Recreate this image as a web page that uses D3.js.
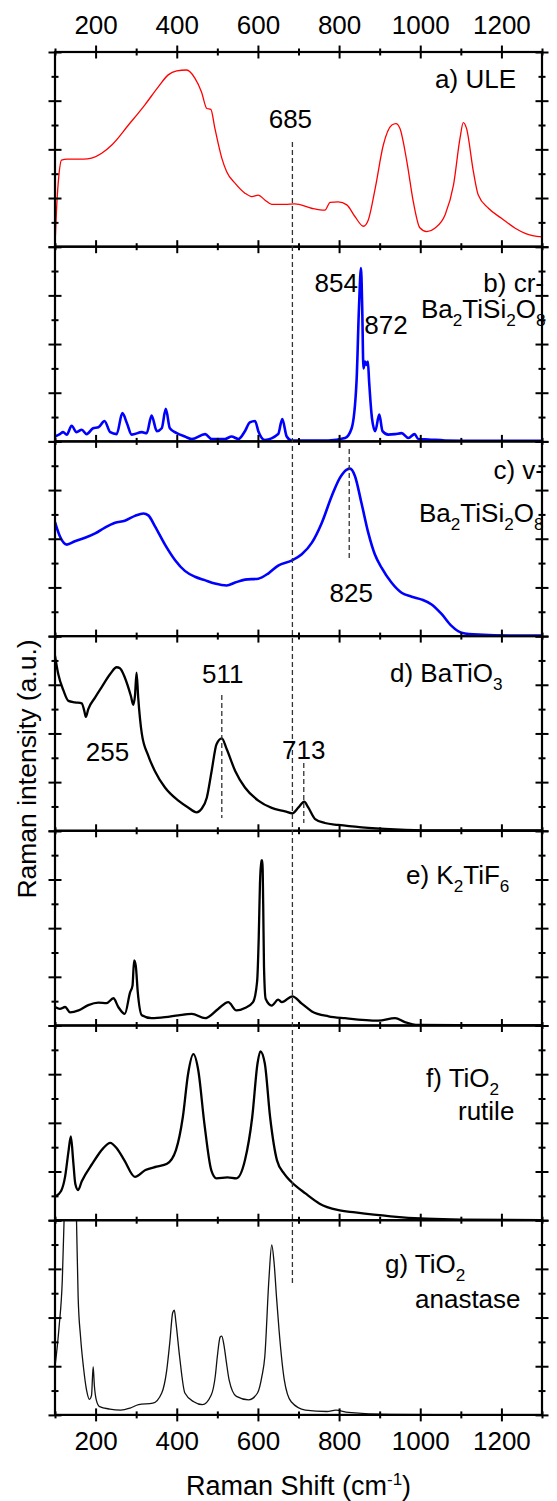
<!DOCTYPE html>
<html>
<head>
<meta charset="utf-8">
<script src="https://cdn.jsdelivr.net/npm/d3@7"></script>
<style>
  body { margin: 0; background: #fff; }
  text { font-family: "Liberation Sans", Arial, sans-serif; fill: #000; }
</style>
</head>
<body>
<div id="chart"></div>
<script>
// Raman shift (cm-1), intensity in panel units (0 = panel bottom, 4 = panel top)
const ulePts = [[100,0.03],[104,0.8],[110,1.5],[116,1.78],[130,1.8],[150,1.8],[170,1.8],[190,1.82],[215,1.92],[240,2.09],[281,2.5],[322,2.92],[355,3.29],[379,3.53],[400,3.61],[424,3.63],[445,3.46],[461,3.18],[474,2.84],[484,2.82],[494,2.43],[511,1.82],[523,1.54],[544,1.3],[568,1.1],[585,1.03],[601,1.06],[617,0.96],[634,0.87],[667,0.87],[691,0.88],[732,0.79],[765,0.75],[778,0.91],[798,0.92],[819,0.86],[839,0.62],[860,0.42],[872,0.55],[889,1.2],[909,2.09],[930,2.5],[940,2.53],[950,2.43],[967,1.75],[983,0.92],[999,0.39],[1016,0.31],[1036,0.38],[1061,0.65],[1082,1.27],[1098,2.23],[1106,2.55],[1114,2.43],[1131,1.54],[1143,1.06],[1168,0.79],[1201,0.58],[1234,0.38],[1260,0.27],[1300,0.2]];

const crBtsPts = [[100,0.1],[112,0.15],[120,0.19],[129,0.14],[141,0.32],[153,0.19],[166,0.24],[178,0.15],[194,0.27],[207,0.29],[222,0.42],[236,0.19],[252,0.15],[266,0.58],[277,0.38],[289,0.14],[314,0.19],[326,0.17],[338,0.53],[351,0.21],[363,0.27],[373,0.67],[383,0.27],[400,0.17],[420,0.1],[437,0.05],[470,0.15],[486,0.05],[519,0.05],[535,0.1],[552,0.05],[568,0.21],[580,0.39],[593,0.42],[601,0.21],[617,0.03],[650,0.15],[660,0.46],[671,0.1],[683,0.02],[773,0.02],[815,0.07],[831,0.27],[843,1.23],[849,2.74],[854,3.56],[857,2.74],[860,1.5],[864,1.64],[868,1.57],[871,1.64],[874,1.23],[881,0.48],[889,0.21],[899,0.55],[907,0.21],[921,0.14],[938,0.15],[954,0.17],[971,0.07],[986,0.15],[995,0.05],[1020,0.04],[1061,0.02],[1143,0.01],[1300,0.01]];

const vBtsPts = [[100,2.34],[112,2.05],[129,1.88],[149,1.95],[174,2.02],[199,2.11],[223,2.23],[248,2.33],[272,2.37],[297,2.47],[318,2.52],[330,2.48],[346,2.26],[371,1.88],[396,1.56],[420,1.34],[445,1.22],[469,1.15],[494,1.08],[523,1.04],[544,1.1],[568,1.16],[601,1.18],[626,1.29],[650,1.45],[683,1.55],[708,1.68],[733,1.92],[757,2.32],[782,2.88],[802,3.25],[819,3.42],[827,3.44],[839,3.29],[855,2.74],[872,2.12],[888,1.68],[905,1.4],[929,1.1],[954,0.89],[979,0.81],[1004,0.75],[1028,0.65],[1053,0.45],[1077,0.21],[1102,0.07],[1143,0.03],[1234,0.01],[1300,0.01]];

const batio3Pts = [[100,3.6],[108,3.22],[121,2.88],[133,2.67],[149,2.64],[166,2.62],[172,2.47],[176,2.34],[182,2.5],[199,2.74],[215,2.95],[236,3.22],[252,3.36],[260,3.34],[272,3.15],[287,2.77],[293,2.59],[297,2.77],[301,3.25],[305,2.74],[314,1.99],[330,1.54],[346,1.23],[371,0.89],[404,0.62],[428,0.48],[449,0.38],[461,0.45],[474,0.68],[486,1.23],[498,1.78],[511,1.9],[523,1.68],[544,1.23],[568,0.89],[601,0.62],[634,0.47],[667,0.4],[685,0.36],[700,0.48],[714,0.6],[724,0.48],[741,0.24],[765,0.16],[798,0.12],[856,0.07],[938,0.03],[1020,0.01],[1300,0.01]];

const k2tif6Pts = [[100,0.38],[112,0.34],[125,0.38],[137,0.27],[158,0.31],[182,0.42],[207,0.47],[227,0.46],[244,0.56],[256,0.38],[272,0.24],[285,0.68],[291,0.82],[295,1.34],[299,1.23],[304,0.68],[314,0.21],[338,0.15],[371,0.17],[404,0.21],[437,0.24],[470,0.15],[502,0.34],[527,0.48],[547,0.31],[568,0.36],[588,0.48],[598,0.9],[602,1.8],[605,2.9],[608,3.39],[611,3.39],[613,2.5],[615,1.2],[619,0.55],[634,0.41],[650,0.53],[659,0.48],[685,0.6],[708,0.45],[733,0.29],[774,0.19],[815,0.15],[897,0.1],[938,0.15],[962,0.07],[995,0.01],[1300,0]];

const rutilePts = [[100,0.48],[115,0.6],[125,0.9],[133,1.4],[139,1.72],[145,1.2],[150,0.75],[157,0.62],[166,0.8],[192,1.16],[218,1.47],[236,1.59],[253,1.47],[271,1.23],[297,0.89],[323,1.03],[350,1.1],[376,1.16],[398,1.44],[415,2.12],[428,3.01],[441,3.41],[453,3.08],[468,1.99],[485,1.03],[498,0.86],[525,0.88],[547,0.86],[568,1.23],[586,2.12],[599,3.22],[606,3.47],[617,3.22],[630,2.12],[647,1.23],[665,0.95],[682,0.79],[717,0.55],[752,0.34],[796,0.21],[840,0.16],[927,0.08],[1015,0.03],[1102,0.01],[1300,0]];

const anatasePts = [[100,0.99],[110,1.8],[118,2.77],[124,4.5],[131,6.5],[138,7],[145,6.5],[150,5],[153,4],[157,2.43],[163,1.6],[170,0.99],[178,0.5],[185,0.32],[190,0.4],[194,0.99],[197,0.6],[202,0.3],[210,0.17],[235,0.12],[262,0.1],[285,0.14],[306,0.21],[341,0.24],[363,0.45],[375,0.9],[383,1.5],[390,2.1],[394,2.15],[398,1.9],[407,1.2],[420,0.45],[442,0.27],[463,0.21],[485,0.41],[495,0.8],[500,1.2],[507,1.6],[511,1.62],[516,1.45],[522,1.1],[529,0.72],[547,0.38],[577,0.31],[599,0.45],[610,0.8],[617,1.2],[627,2.77],[634,3.49],[640,3.11],[646,2.4],[652,1.75],[665,0.72],[682,0.27],[717,0.1],[770,0.07],[792,0.1],[823,0.05],[927,0.01],[1300,0]];

const xMajorTicks = [200, 400, 600, 800, 1000, 1200];
const xMinorTicks = [100, 300, 500, 700, 900, 1100, 1300];
const yMajorTicks = [0, 1, 2, 3, 4];
const yMinorTicks = [0.5, 1.5, 2.5, 3.5];

// [text, subscript?]
const panels = [
  { data: ulePts,    color: "#ff0000", width: 1.3, label: [[ [["a) ULE",0]], 516, 88, "end"]] },
  { data: crBtsPts,  color: "#0000ff", width: 2.6, label: [[ [["b) cr-",0]], 544, 292, "end"], [[["Ba",0],["2",1],["TiSi",0],["2",1],["O",0],["8",1]], 421, 318, "start"]] },
  { data: vBtsPts,   color: "#0000ff", width: 2.6, label: [[ [["c) v-",0]], 544, 479, "end"], [[["Ba",0],["2",1],["TiSi",0],["2",1],["O",0],["8",1]], 419, 522, "start"]] },
  { data: batio3Pts, color: "#000000", width: 2.3, label: [[ [["d) BaTiO",0],["3",1]], 390, 682, "start"]] },
  { data: k2tif6Pts, color: "#000000", width: 2.3, label: [[ [["e) K",0],["2",1],["TiF",0],["6",1]], 406, 884, "start"]] },
  { data: rutilePts, color: "#000000", width: 2.3, label: [[ [["f) TiO",0],["2",1]], 426, 1087, "start"], [[["rutile",0]], 458, 1120, "start"]] },
  { data: anatasePts,color: "#111111", width: 1.3, label: [[ [["g) TiO",0],["2",1]], 385, 1273, "start"], [[["anastase",0]], 415, 1308, "start"]] }
];

// peak annotations: [text, shift, baseline y, anchor, x offset]
const peakLabels = [["685", 685, 128, "middle", -2], ["854", 854, 292, "end", -3], ["872", 872, 334, "start", -4],
                    ["825", 825, 602, "middle", 2], ["511", 511, 683, "middle", 1], ["255", 255, 761, "middle", 0],
                    ["713", 713, 759, "middle", 0]];
// dashed guide lines: [shift, y1, y2]
const guides = [[685, 142, 1285], [825, 449, 561], [511, 695, 818], [713, 763, 823]];

const W = 557, H = 1501;
const top0 = 52, panelH = 194.7;
const fs = 26;

const svg = d3.select("#chart").append("svg").attr("width", W).attr("height", H);
const x = d3.scaleLinear().domain([100, 1300]).range([55, 542]);

function crossTicks(g, axis, orient, len) {
  g.call(axis);
  g.select(".domain").remove();
  const attr = (orient === "left" || orient === "right") ? "x1" : "y1";
  const sign = (orient === "left" || orient === "top") ? 1 : -1;
  g.selectAll(".tick line").attr(attr, sign * len).attr("stroke", "#000").attr("stroke-width", 2);
}

function richText(parent, parts, tx, ty, anchor, size) {
  const t = parent.append("text").attr("x", tx).attr("y", ty)
    .attr("text-anchor", anchor).attr("font-size", size);
  let shifted = false;
  parts.forEach(([s, sub]) => {
    const ts = t.append("tspan").text(s);
    if (sub && !shifted) { ts.attr("dy", 8).attr("font-size", size * 0.66); shifted = true; }
    else if (sub) { ts.attr("font-size", size * 0.66); }
    else if (!sub && shifted) { ts.attr("dy", -8); shifted = false; }
  });
  return t;
}

panels.forEach((p, i) => {
  const top = top0 + i * panelH, bottom = top + panelH;
  const y = d3.scaleLinear().domain([0, 4]).range([bottom, top]);

  svg.append("clipPath").attr("id", "clip" + i)
    .append("rect").attr("x", x(100)).attr("y", top).attr("width", x(1300) - x(100)).attr("height", panelH);

  const line = d3.line().x(d => x(d[0])).y(d => y(d[1])).curve(d3.curveMonotoneX);
  svg.append("path").datum(p.data)
    .attr("clip-path", `url(#clip${i})`)
    .attr("d", line).attr("fill", "none")
    .attr("stroke", p.color).attr("stroke-width", p.width).attr("stroke-linejoin", "round");

  // y ticks
  crossTicks(svg.append("g").attr("transform", `translate(${x(100)},0)`),
    d3.axisLeft(y).tickValues(yMajorTicks).tickSize(6.5).tickFormat(""), "left", 6.5);
  crossTicks(svg.append("g").attr("transform", `translate(${x(100)},0)`),
    d3.axisLeft(y).tickValues(yMinorTicks).tickSize(3.5).tickFormat(""), "left", 3.5);
  crossTicks(svg.append("g").attr("transform", `translate(${x(1300)},0)`),
    d3.axisRight(y).tickValues(yMajorTicks).tickSize(6.5).tickFormat(""), "right", 6.5);
  crossTicks(svg.append("g").attr("transform", `translate(${x(1300)},0)`),
    d3.axisRight(y).tickValues(yMinorTicks).tickSize(3.5).tickFormat(""), "right", 3.5);

  // x ticks at panel bottom
  const last = i === panels.length - 1;
  const gb = svg.append("g").attr("transform", `translate(0,${bottom})`);
  crossTicks(gb, d3.axisBottom(x).tickValues(xMajorTicks).tickSize(6.5).tickPadding(10)
    .tickFormat(last ? d3.format("d") : ""), "bottom", 6.5);
  gb.selectAll(".tick text").attr("font-size", fs).attr("fill", "#000").attr("font-family", null);
  crossTicks(svg.append("g").attr("transform", `translate(0,${bottom})`),
    d3.axisBottom(x).tickValues(xMinorTicks).tickSize(3.5).tickFormat(""), "bottom", 3.5);

  if (i === 0) {
    const gt = svg.append("g").attr("transform", `translate(0,${top})`);
    crossTicks(gt, d3.axisTop(x).tickValues(xMajorTicks).tickSize(6.5).tickPadding(11.5)
      .tickFormat(d3.format("d")), "top", 6.5);
    gt.selectAll(".tick text").attr("font-size", fs).attr("fill", "#000").attr("font-family", null);
    crossTicks(svg.append("g").attr("transform", `translate(0,${top})`),
      d3.axisTop(x).tickValues(xMinorTicks).tickSize(3.5).tickFormat(""), "top", 3.5);
  }

  svg.append("rect").attr("x", x(100)).attr("y", top).attr("width", x(1300) - x(100)).attr("height", panelH)
    .attr("fill", "none").attr("stroke", "#000").attr("stroke-width", 2.2);

  p.label.forEach(([parts, lx, ly, anchor]) => richText(svg, parts, lx, ly, anchor, fs));
});

// guide lines
svg.append("g").selectAll("line").data(guides).join("line")
  .attr("x1", d => x(d[0])).attr("x2", d => x(d[0]))
  .attr("y1", d => d[1]).attr("y2", d => d[2])
  .attr("stroke", "#333").attr("stroke-width", 1.3).attr("stroke-dasharray", "5,3");

svg.append("g").selectAll("text").data(peakLabels).join("text")
  .attr("x", d => x(d[1]) + d[4]).attr("y", d => d[2])
  .attr("text-anchor", d => d[3]).attr("font-size", fs)
  .text(d => d[0]);

// fix 255 / 854 / 872 positions to their text boxes
svg.selectAll("text").filter(function () { return this.textContent === "255"; }).attr("x", 107.5);

// axis titles
svg.append("text").attr("transform", "translate(36,769) rotate(-90)")
  .attr("text-anchor", "middle").attr("font-size", 26.5).text("Raman intensity (a.u.)");

const xt = svg.append("text").attr("x", 298.5).attr("y", 1495).attr("text-anchor", "middle").attr("font-size", 27);
xt.append("tspan").text("Raman Shift (cm");
xt.append("tspan").attr("dy", -10).attr("font-size", 17).text("-1");
xt.append("tspan").attr("dy", 10).text(")");
</script>
</body>
</html>
